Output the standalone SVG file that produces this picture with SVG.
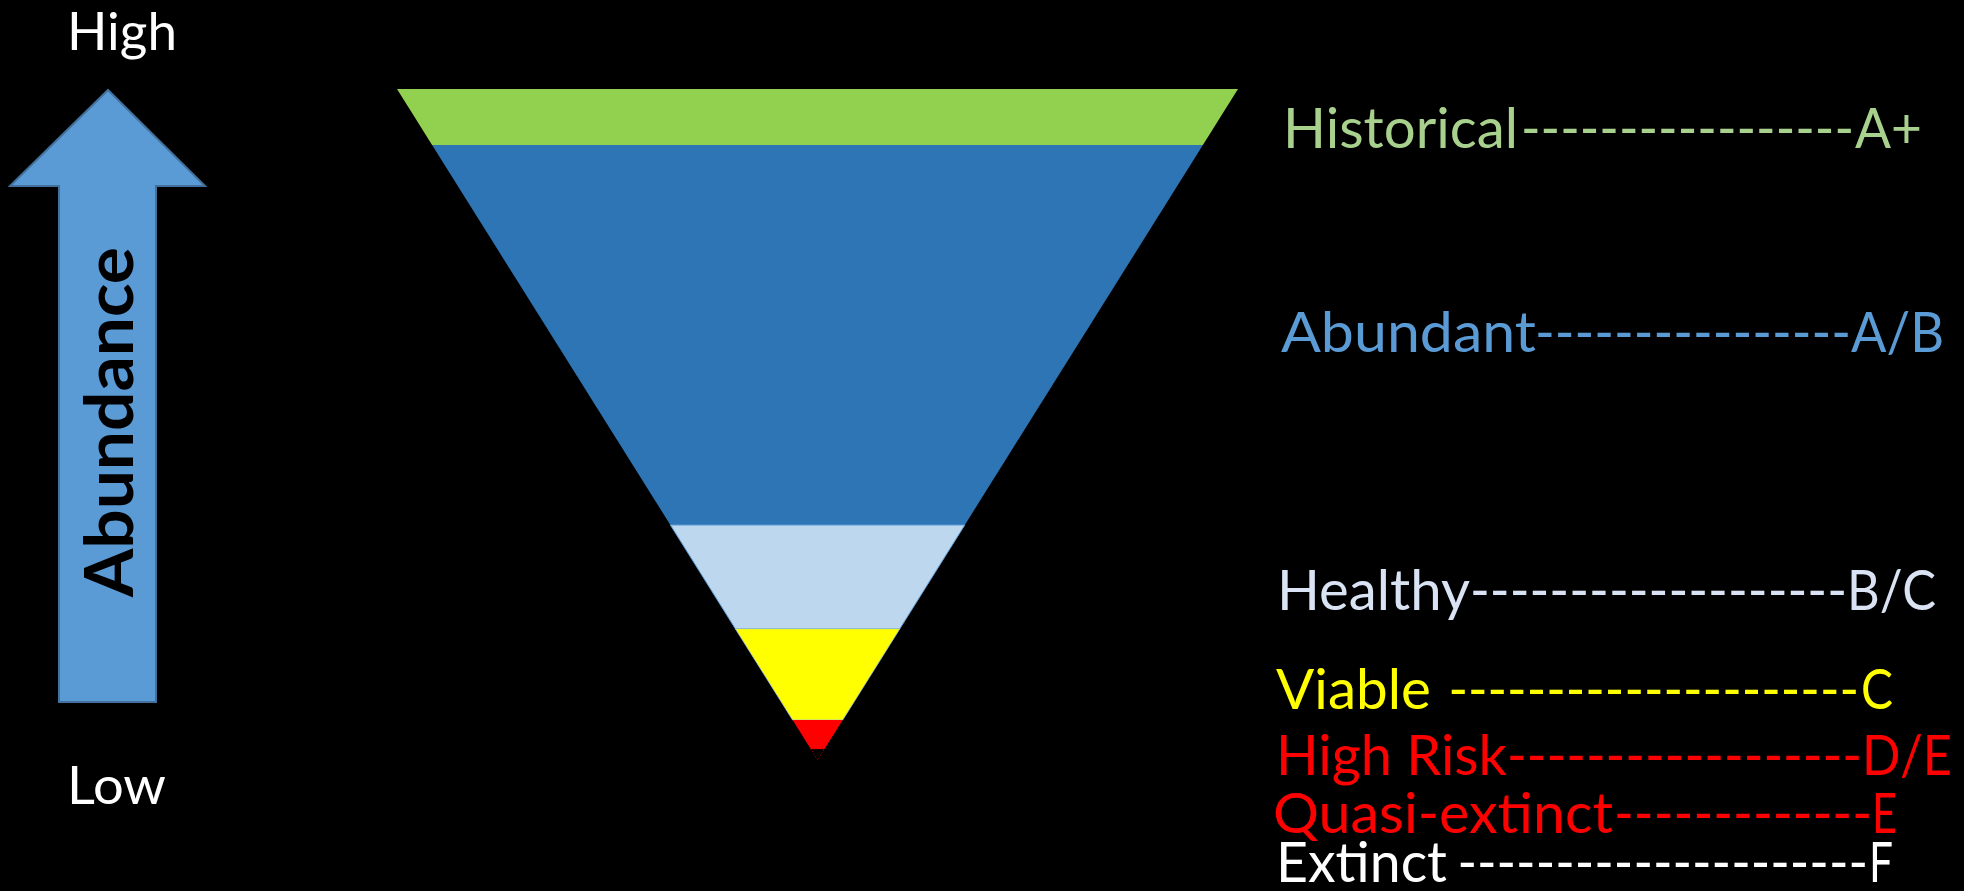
<svg xmlns="http://www.w3.org/2000/svg" width="1964" height="891" viewBox="0 0 1964 891">
<style>
.lbl{font-family:Lato,"Liberation Sans",sans-serif;font-size:56px}
.axis{font-family:Lato,"Liberation Sans",sans-serif;font-size:52px;fill:#ffffff}
</style>
<rect x="0" y="0" width="1964" height="891" fill="#000000"/>
<g id="abundance-arrow">
<polygon points="108,90 205,186 156,186 156,702 59,702 59,186 10,186" fill="#5b9bd5" stroke="#41719c" stroke-width="2"/>
<text transform="translate(133,597) rotate(-90)" x="0" y="0" font-family="Lato,'Liberation Sans',sans-serif" font-weight="bold" font-size="67" fill="#000000" textLength="350" lengthAdjust="spacingAndGlyphs">Abundance</text>
</g>
<g id="axis-labels">
<text class="axis" x="67" y="50" textLength="110" lengthAdjust="spacingAndGlyphs">High</text>
<text class="axis" x="67" y="804" textLength="99" lengthAdjust="spacingAndGlyphs">Low</text>
</g>
<g id="pyramid">
<polygon id="band-historical" points="397,89 1238,89 1202.9,145 432.1,145" fill="#92d050"/>
<polygon id="band-abundant" points="432.1,145 1202.9,145 964.8,525 670.4,525" fill="#2e75b6"/>
<polygon id="band-healthy" points="670.4,525 964.8,525 899.9,628.7 735.3,628.7" fill="#bdd7ee" stroke="#5b9bd5" stroke-width="1"/>
<polygon id="band-viable" points="735.3,628.7 899.9,628.7 842.7,720 792.6,720" fill="#ffff00" stroke="#9dc3e6" stroke-width="0.8"/>
<polygon id="band-highrisk" points="792.6,720 842.7,720 824.5,749 810.8,749" fill="#ff0000"/>
<polygon id="band-extinct" points="810.8,749 824.5,749 817.7,760" fill="#000000" stroke="#c00000" stroke-width="1" stroke-dasharray="1,2"/>
</g>
<g id="status-labels">
<text id="lbl-historical" class="lbl" y="148" fill="#a9d18e"><tspan x="1283" textLength="235" lengthAdjust="spacingAndGlyphs">Historical</tspan><tspan x="1521" textLength="333" lengthAdjust="spacingAndGlyphs">-----------------</tspan><tspan x="1855" textLength="67" lengthAdjust="spacingAndGlyphs">A+</tspan></text>
<text id="lbl-abundant" class="lbl" y="352" fill="#5b9bd5"><tspan x="1281" textLength="255" lengthAdjust="spacingAndGlyphs">Abundant</tspan><tspan x="1535" textLength="316" lengthAdjust="spacingAndGlyphs">----------------</tspan><tspan x="1851" textLength="93" lengthAdjust="spacingAndGlyphs">A/B</tspan></text>
<text id="lbl-healthy" class="lbl" y="610" fill="#dae3f3"><tspan x="1277" textLength="193" lengthAdjust="spacingAndGlyphs">Healthy</tspan><tspan x="1470" textLength="377" lengthAdjust="spacingAndGlyphs">-------------------</tspan><tspan x="1847" textLength="89" lengthAdjust="spacingAndGlyphs">B/C</tspan></text>
<text id="lbl-viable" class="lbl" y="709" fill="#ffff00"><tspan x="1276" textLength="155" lengthAdjust="spacingAndGlyphs">Viable</tspan><tspan x="1435" textLength="424" lengthAdjust="spacingAndGlyphs"> ---------------------</tspan><tspan x="1861" textLength="32" lengthAdjust="spacingAndGlyphs">C</tspan></text>
<text id="lbl-highrisk" class="lbl" y="775" fill="#ff0000"><tspan x="1276" textLength="231" lengthAdjust="spacingAndGlyphs">High Risk</tspan><tspan x="1507" textLength="355" lengthAdjust="spacingAndGlyphs">------------------</tspan><tspan x="1862" textLength="90" lengthAdjust="spacingAndGlyphs">D/E</tspan></text>
<text id="lbl-quasi" class="lbl" y="833" fill="#ff0000"><tspan x="1273" textLength="340" lengthAdjust="spacingAndGlyphs">Quasi-extinct</tspan><tspan x="1614" textLength="258" lengthAdjust="spacingAndGlyphs">-------------</tspan><tspan x="1872" textLength="25" lengthAdjust="spacingAndGlyphs">E</tspan></text>
<text id="lbl-extinct" class="lbl" y="882" fill="#ffffff"><tspan x="1276" textLength="171" lengthAdjust="spacingAndGlyphs">Extinct</tspan><tspan x="1444" textLength="424" lengthAdjust="spacingAndGlyphs"> ---------------------</tspan><tspan x="1869" textLength="24" lengthAdjust="spacingAndGlyphs">F</tspan></text>
</g>
<g id="connectors"/>
</svg>
